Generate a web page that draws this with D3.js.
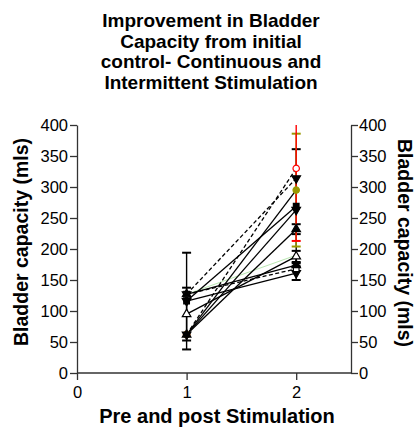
<!DOCTYPE html>
<html><head><meta charset="utf-8">
<script src="https://cdn.jsdelivr.net/npm/d3@7"></script>
<style>body{margin:0;background:#fff}svg{display:block}text{font-family:"Liberation Sans",Arial,sans-serif}</style>
</head><body><svg id="c" width="415" height="432"></svg>
<script>
const titleLines = ["Improvement in Bladder","Capacity from initial","control- Continuous and","Intermittent Stimulation"];
const xTicks = [0,1,2];
const yTicks = [0,50,100,150,200,250,300,350,400];
const seriesNames = ["A","B","C","D","E","F","G","H","I","J","K"];
const preValues  = [62, 127, 62, 116, 62, 62, 95, 127, 127, 116, 127];
const postValues = [330, 314, 295, 269, 263, 232, 188, 174, 168, 161, 190];
const preErr  = [0, 0, 0, 78, 0, 0, 42.6, 0, 0, 0, 0];
const postErr = [117, 0, 91, 92, 0, 8, 9, 0, 0, 11, 0];
const colors  = ["#ff0000","#000","#999900","#000","#000","#000","#000","#000","#000","#000","#b8e6b0"];
const dashed  = [true, true, false, false, false, false, false, false, true, false, false];
const symbols = ["circleOpen","triDown","circle","square","triDown","triUp","triUpOpen","triUp","squareOpen","triDown","none"];

const svg = d3.select("#c");
const x = d3.scaleLinear().domain([0,2.5]).range([77,351]);
const y = d3.scaleLinear().domain([0,400]).range([373,125]);
const FONT = "Liberation Sans, Arial, sans-serif";

svg.selectAll(".title").data(titleLines).join("text")
  .attr("x",211).attr("y",(d,i)=>27+i*20.5).attr("text-anchor","middle")
  .attr("font-size",19).attr("font-weight","bold").text(d=>d);

const axisColor="#333";
const gl = svg.append("g").attr("transform","translate(77,0)")
  .call(d3.axisLeft(y).tickValues(yTicks).tickSize(7).tickPadding(2).tickSizeOuter(0));
const gr = svg.append("g").attr("transform","translate(351,0)")
  .call(d3.axisRight(y).tickValues(yTicks).tickSize(7).tickPadding(1).tickSizeOuter(0));
const gx = svg.append("g").attr("transform","translate(0,373)")
  .call(d3.axisBottom(x).tickValues(xTicks).tickFormat(d3.format("d")).tickSize(7).tickPadding(6).tickSizeOuter(0));
[gl,gr,gx].forEach(g=>{
  g.select(".domain").attr("stroke",axisColor).attr("stroke-width",1.3);
  g.selectAll(".tick line").attr("stroke",axisColor).attr("stroke-width",1.3);
  g.selectAll("text").attr("font-size",16.5).attr("fill","#000").style("font-family",FONT);
});
gx.select(".domain").attr("d",`M77,0H351`);

svg.append("text").attr("transform","translate(28,242) rotate(-90)").attr("text-anchor","middle")
  .attr("font-size",19.5).attr("font-weight","bold").text("Bladder capacity (mls)");
svg.append("text").attr("transform","translate(398,243) rotate(90)").attr("text-anchor","middle")
  .attr("font-size",19.5).attr("font-weight","bold").text("Bladder capacity (mls)");
svg.append("text").attr("x",217).attr("y",423).attr("text-anchor","middle")
  .attr("font-size",20).attr("font-weight","bold").text("Pre and post Stimulation");

const data = seriesNames.map((n,i)=>({n,i,pts:[{x:1,v:preValues[i],e:preErr[i]},{x:2,v:postValues[i],e:postErr[i]}]}));
const clipId="clp";
svg.append("clipPath").attr("id",clipId).append("rect").attr("x",60).attr("y",125).attr("width",300).attr("height",260);
const plot = svg.append("g").attr("clip-path",`url(#${clipId})`);

const order = [10,9,8,7,6,5,4,3,2,1,0];
const markerOrder = [10,0,2,1,9,8,7,6,4,5,3];
order.forEach(i=>{
  const d=data[i];
  plot.append("line").attr("x1",x(1)).attr("y1",y(d.pts[0].v)).attr("x2",x(2)).attr("y2",y(d.pts[1].v))
    .attr("stroke",i===10?colors[i]:"#000").attr("stroke-width",i===10?1:1.3).attr("stroke-dasharray",dashed[i]?"4,2.5":null);
});
order.forEach(i=>{
  const d=data[i];
  const g=plot.append("g");
  d.pts.forEach(p=>{
    const cx=x(p.x), c=colors[i];
    if(p.e>0){
      g.append("line").attr("x1",cx).attr("x2",cx).attr("y1",y(p.v+p.e)).attr("y2",y(p.v-p.e)).attr("stroke",c).attr("stroke-width",1.4);
      [p.v+p.e,p.v-p.e].forEach(v=>g.append("line").attr("x1",cx-4.5).attr("x2",cx+4.5).attr("y1",y(v)).attr("y2",y(v)).attr("stroke",c).attr("stroke-width",2));
    }
  });
});
markerOrder.forEach(i=>{
  const d=data[i];
  const g=plot.append("g");
  d.pts.forEach(p=>{
    const cx=x(p.x), cy=y(p.v), s=symbols[i], c=colors[i];
    if(s==="none") return;
    let sym, fill=c, stroke=c;
    if(s==="circle"||s==="circleOpen") sym=d3.symbolCircle;
    if(s==="square"||s==="squareOpen") sym=d3.symbolSquare;
    if(s.startsWith("triUp")||s==="triDown") sym=d3.symbolTriangle;
    if(s.endsWith("Open")) fill="#fff";
    g.append("path").attr("d",d3.symbol().type(sym).size(32)())
      .attr("transform",`translate(${cx},${cy})${s==="triDown"?" rotate(180)":""}`)
      .attr("fill",fill).attr("stroke",stroke).attr("stroke-width",1.2);
  });
});
</script></body></html>
